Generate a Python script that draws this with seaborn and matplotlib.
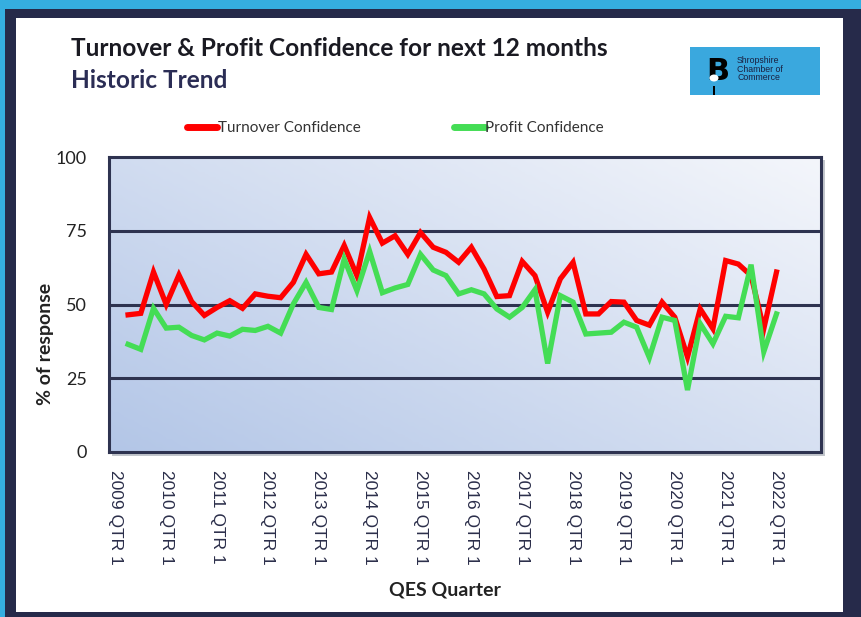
import numpy as np
import pandas as pd
import matplotlib
matplotlib.use("Agg")
import matplotlib.pyplot as plt
from matplotlib.patches import Rectangle, Ellipse
from matplotlib.colors import LinearSegmentedColormap
import seaborn as sns

# --- data: quarterly survey values, 2009 QTR 2 .. 2022 QTR 1 ---
years = list(range(2009, 2023))
quarters = [f"{y} QTR {q}" for y in years for q in range(1, 5)]  # category axis 2009 Q1 .. 2022 Q4
first_quarter = "2009 QTR 2"
turnover = [46.5, 47, 61, 50, 60, 51, 46.3, 49, 51.3, 48.7, 53.6, 52.8, 52.3, 57.5, 67, 60.4,
            61, 70, 59.8, 79.5, 70.8, 73.3, 67, 74.4, 69.4, 67.7, 64.3, 69.4, 62, 52.7, 53, 64.6,
            59.8, 47.4, 58.7, 64.3, 46.8, 46.8, 51, 50.8, 44.6, 43, 50.8, 45.7, 32.2, 48.5, 41.8, 64.9,
            63.7, 59.8, 41.8, 61]
profit = [36.5, 34.8, 48.7, 42, 42.3, 39.5, 38, 40.3, 39.3, 41.6, 41.2, 42.6, 40.3, 50.2, 57.5, 49,
          48.3, 65.4, 54.7, 68, 54, 55.6, 56.8, 67, 61.7, 59.8, 53.6, 55, 53.6, 48.5, 45.7, 49,
          55, 30, 53, 50.8, 40, 40.3, 40.6, 44, 42.3, 32, 45.7, 44.6, 21, 43.5, 36.7, 46,
          45.5, 63.5, 34, 46.8]
tick_labels = ["2009 QTR 1", "2010 QTR 1", "2011 QTR 1", "2012 QTR 1", "2013 QTR 1", "2014 QTR 1",
               "2015 QTR 1", "2016 QTR 1", "2017 QTR 1", "2018 QTR 1", "2019 QTR 1", "2020 QTR 1",
               "2021 QTR 1", "2022 QTR 1"]
series_names = ["Turnover Confidence", "Profit Confidence"]
colors = {"Turnover Confidence": "#ff0000", "Profit Confidence": "#44dd55"}

start = quarters.index(first_quarter)
df = pd.DataFrame({
    "pos": list(range(start, start + len(turnover))) * 2,
    "value": turnover + profit,
    "series": [series_names[0]] * len(turnover) + [series_names[1]] * len(profit),
})

W, H = 861, 617
fig = plt.figure(figsize=(W / 100, H / 100), dpi=100)
fig.patch.set_facecolor("#35aee0")

def px_rect(x0, y0, x1, y1, **kw):
    fig.patches.append(Rectangle((x0 / W, 1 - y1 / H), (x1 - x0) / W, (y1 - y0) / H,
                                 transform=fig.transFigure, **kw))

px_rect(5, 9, W, H, facecolor="#262a4a", edgecolor="none", zorder=-3)
px_rect(16, 18, 843, 612, facecolor="white", edgecolor="none", zorder=-2)
# plot shadow
px_rect(112, 160, 825, 456, facecolor="#9aa0ab", edgecolor="none", alpha=0.6, zorder=-1)

ax = fig.add_axes([109 / W, 1 - 452 / H, (821 - 109) / W, (452 - 157) / H])
ax.set_zorder(1)

# gradient background
nx, ny = 200, 120
gx, gy = np.meshgrid(np.linspace(0, 1, nx), np.linspace(1, 0, ny))
g = 0.55 * gx + 0.45 * gy
cmap = LinearSegmentedColormap.from_list("bg", ["#b3c6e7", "#f4f6fb"])
ax.imshow(g, cmap=cmap, extent=[-0.5, len(quarters) - 0.5, 0, 100], aspect="auto", zorder=0)

for v in [25, 50, 75]:
    ax.axhline(v, color="#2e3350", lw=2.2, zorder=1)

sns.lineplot(data=df, x="pos", y="value", hue="series", palette=colors, lw=3.8,
             ax=ax, legend=False, zorder=3, solid_joinstyle="miter")

ax.set_xlim(-0.5, len(quarters) - 0.5)
ax.set_ylim(0, 100)
ax.set_xticks([quarters.index(t) for t in tick_labels])
ax.set_xticklabels(tick_labels, rotation=-90, family="Liberation Sans", fontsize=12.5,
                   color="#2b2e4a", va="top", ha="center")
ax.set_yticks([0, 25, 50, 75, 100])
ax.set_yticklabels(["0", "25", "50", "75", "100"], family="Lato", fontsize=13, color="#222222")
ax.tick_params(axis="both", length=0)
ax.tick_params(axis="x", pad=13)
ax.tick_params(axis="y", pad=16)
ax.set_xlabel("")
ax.set_ylabel("")
for s in ax.spines.values():
    s.set_color("#2e3350")
    s.set_linewidth(2.2)

# legend
handles = [plt.Line2D([], [], color=colors[n], lw=5, solid_capstyle="round") for n in series_names]
fig.legend(handles, series_names, loc="center left", bbox_to_anchor=(173 / W, 1 - 128 / H),
           ncol=2, frameon=False, handlelength=2.0, handletextpad=0.05, columnspacing=6.1,
           prop={"family": "Lato", "size": 11}, labelcolor="#333333")

# titles
fig.text(71 / W, 1 - 48 / H, "Turnover & Profit Confidence for next 12 months",
         family="Lato", weight="bold", fontsize=17.6, color="#1a1a22", va="center")
fig.text(71 / W, 1 - 80 / H, "Historic Trend",
         family="Lato", weight="bold", fontsize=17.6, color="#2b2d55", va="center")
fig.text(445 / W, 1 - 590 / H, "QES Quarter", family="Lato", weight="bold",
         fontsize=14, color="#222222", ha="center", va="center")
fig.text(45 / W, 1 - 344 / H, "% of response", family="Lato", weight="bold",
         fontsize=14, color="#222222", ha="center", va="center", rotation=90)

# logo box
px_rect(690, 47, 820, 95, facecolor="#3aa8de", edgecolor="none", zorder=1)
px_rect(713, 86, 715, 95, facecolor="black", edgecolor="none", zorder=2)
fig.text(718 / W, 1 - 72 / H, "B", family="DejaVu Sans", weight="bold", fontsize=22,
         color="black", ha="center", va="center", zorder=3)
fig.patches.append(Ellipse((714 / W, 1 - 78 / H), 9 / W, 7 / H, transform=fig.transFigure,
                           facecolor="white", edgecolor="none", zorder=4))
fig.text(737 / W, 1 - 69 / H, "Shropshire\nChamber of\nCommerce", family="Liberation Sans",
         fontsize=6.3, color="#1a2040", ha="left", va="center", linespacing=0.95, zorder=5)

fig.savefig("out.png", dpi=100, facecolor=fig.get_facecolor())
